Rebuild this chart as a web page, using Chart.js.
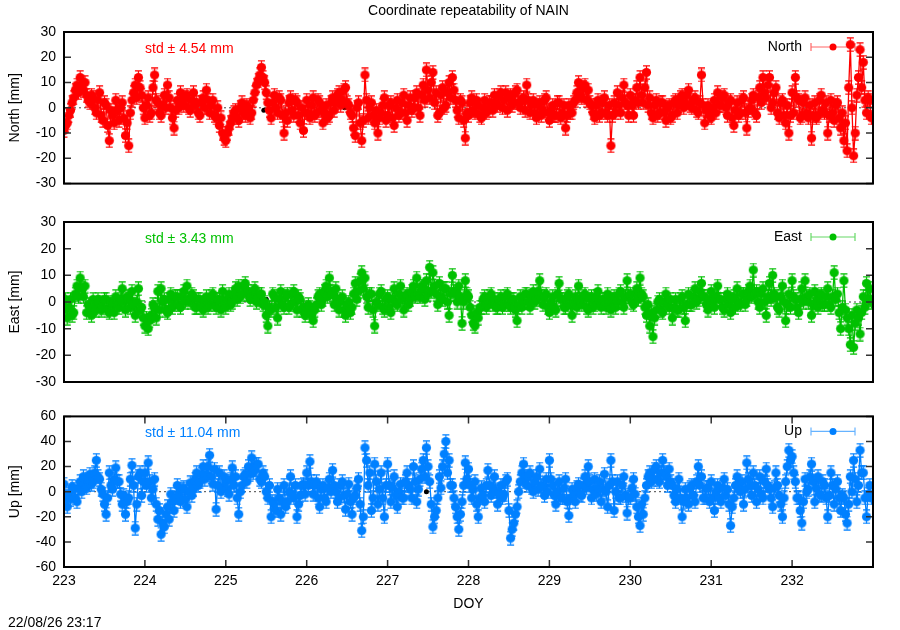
<!DOCTYPE html>
<html>
<head>
<meta charset="utf-8">
<title>Coordinate repeatability of NAIN</title>
<script src="https://cdn.jsdelivr.net/npm/chart.js@4.4.1/dist/chart.umd.min.js"></script>
<style>
  html, body { margin: 0; padding: 0; background: #fff; }
  #page { position: relative; width: 900px; height: 630px; overflow: hidden; font-family: "Liberation Sans", Arial, sans-serif; }
  #page canvas { position: absolute; left: 0; }
  .txt { position: absolute; font-size: 14px; line-height: 18px; color: #000; white-space: nowrap; }
</style>
</head>
<body>
<div id="page">
  <canvas id="north" width="900" height="200" style="top:0"></canvas>
  <canvas id="east" width="900" height="200" style="top:200px"></canvas>
  <canvas id="up" width="900" height="230" style="top:400px"></canvas>
  <div class="txt" style="left:64px;width:809px;top:1px;text-align:center">Coordinate repeatability of NAIN</div>
  <div class="txt" style="left:8px;top:613px">22/08/26 23:17</div>
</div>
<script>
// sampling grid: 50 solutions per day, starting at DOY 223.00
const doyStart = 223;
const samplesPerDay = 50;
const xTickValues = [223, 224, 225, 226, 227, 228, 229, 230, 231, 232];
const neTickValues = [-30, -20, -10, 0, 10, 20, 30];
const upTickValues = [-60, -40, -20, 0, 20, 40, 60];

// residuals in mm, one row per day (223 ... 232)
const northMm = [
  -9,-7,-6,-3,-1,2,4,7,9,6,12,9,7,10,5,3,2,5,4,0,-2,3,6,-3,-5,2,1,-7,-13,-1,-3,-6,3,-1,-5,0,2,-4,-11,-6,-15,-2,3,6,9,4,12,8,5,0,
  -4,1,4,-3,-2,8,13,3,2,-2,-3,1,5,0,9,4,0,-4,-8,-1,3,0,6,2,1,4,5,0,-1,3,6,1,2,-2,-3,2,4,0,7,3,-2,1,3,-3,-4,0,-7,-4,-10,-12,
  -13,-10,-8,-6,-4,-2,-1,-4,-5,0,2,-2,-3,1,0,-4,-2,3,6,9,11,13,16,12,10,6,2,-1,-4,2,5,0,-2,4,3,-3,-10,-2,-5,2,4,-1,-3,3,2,-3,-6,0,-9,-2,
  3,-2,-4,1,4,-3,-2,3,2,-1,-6,-2,1,-4,-3,2,4,-1,2,5,6,1,3,7,8,2,1,-2,-3,-8,-11,0,2,-6,-13,-5,13,3,-4,0,2,-3,-6,-1,-10,-4,-2,1,4,-5,
  -3,1,2,-4,-7,0,3,-3,-2,2,5,-2,-5,1,4,-1,0,4,6,0,-3,5,9,3,15,7,4,10,14,2,6,-3,-2,5,8,0,1,6,10,4,12,7,3,-1,-4,3,2,-5,-12,-2,
  -3,2,4,-1,-2,3,1,-3,-4,0,3,-2,-1,2,2,-1,5,2,1,5,6,0,3,6,-1,4,5,1,2,6,7,2,0,3,4,-1,9,3,-2,1,3,-2,-4,1,2,-3,-1,3,4,-2,
  -5,-1,1,-3,-3,2,2,-4,-2,1,-8,-3,1,-2,-2,2,3,6,10,5,4,8,9,3,7,2,1,-2,-4,1,3,-3,-2,2,4,-2,-3,1,-15,-3,2,-2,6,1,-2,4,9,2,1,-3,
  5,1,-3,3,8,2,12,5,2,8,14,1,4,-2,-4,1,3,-3,-2,2,2,-2,-5,0,1,-4,-3,2,3,-2,1,4,5,0,2,5,7,1,0,3,4,-1,-2,2,13,1,-6,-1,1,-3,
  -4,0,3,-2,6,1,1,4,5,0,-3,2,3,-4,-7,-1,2,-3,-2,3,4,-2,-8,-1,0,3,5,-2,-3,4,8,2,12,6,4,9,12,0,2,6,8,-2,-4,2,3,-3,-6,1,-10,-3,
  6,-2,12,4,3,-4,-3,2,4,-2,-4,1,-12,-3,2,-4,-3,3,5,-1,-2,2,-10,-3,3,-2,-5,1,2,-4,-8,-2,-13,-6,-17,8,25,0,-19,-10,5,12,23,8,18,3,-2,4,3,-4
];
const eastMm = [
  -3,1,-6,-2,1,-5,-4,3,6,2,9,5,2,6,-4,-1,-2,-5,1,-2,-3,1,0,-3,-2,1,1,-3,-4,0,-1,-4,2,-1,-2,1,5,0,-3,2,1,-2,4,-1,-5,0,5,-3,-2,-6,
  -9,-6,-10,-7,-5,-1,-2,-6,4,-3,5,0,1,-3,-4,1,3,-2,-1,2,2,-1,-2,2,4,0,6,1,0,3,2,-2,-2,1,1,-2,-3,0,2,-2,-1,2,3,-1,-2,1,1,-3,4,0,
  -2,1,3,-1,0,3,5,1,6,2,3,6,7,3,4,1,2,4,5,0,1,3,3,-1,0,-5,-9,-2,-3,3,2,-2,-6,1,4,-1,-2,2,3,-2,-1,3,4,0,-3,2,1,-3,-2,-5,
  -4,-1,-2,-5,-7,-3,-1,2,3,-1,1,4,6,2,9,4,3,-1,5,1,-3,0,2,-3,-5,-1,0,-4,-2,3,7,1,4,8,11,5,9,2,-2,3,3,-3,-9,0,-1,3,4,-2,-3,1,
  2,-2,-4,1,5,0,-1,3,6,1,-3,2,3,-1,1,4,6,2,9,3,2,6,5,1,8,3,13,4,11,6,3,-1,7,2,1,5,5,0,-5,3,10,4,3,0,6,2,-8,0,8,3,
  2,-2,-5,-8,-9,-4,-6,-2,-2,1,2,-2,-1,2,3,-1,1,-2,-2,1,2,-2,-1,2,3,-1,-2,1,1,-3,-7,-1,2,-2,0,3,3,0,-2,2,4,0,1,4,8,2,-1,2,3,-2,
  -4,0,2,-2,-3,3,7,1,1,-2,-2,2,3,-1,-5,0,2,-2,6,1,-1,2,3,-2,-3,1,2,-2,-1,2,4,0,-2,1,1,-2,3,-1,-3,1,2,-2,0,3,4,0,-2,2,8,2,
  3,0,-1,3,5,1,9,3,2,-2,-5,-1,-9,-4,-13,-6,-3,0,1,-3,-4,0,3,-1,-2,1,-6,-2,1,-3,-3,1,2,-2,-7,-1,3,-1,-1,2,5,0,1,4,7,2,2,-1,-3,1,
  4,0,-2,2,6,1,1,-2,-3,1,3,-1,-4,1,2,-2,5,0,-1,3,3,-1,1,4,6,2,12,3,4,0,-2,3,5,0,-5,2,7,1,10,3,2,-2,-3,2,6,0,-7,-1,3,-2,
  8,2,1,-2,-4,1,5,0,8,2,0,3,-5,-1,4,0,-2,2,3,-1,-1,2,5,-1,-2,2,11,1,3,-4,-10,-2,8,-3,-6,-10,-16,-5,-17,-8,-3,-6,-12,-4,2,-2,7,1,5,0
];
const upMm = [
  6,-4,-12,-2,-6,4,2,-5,-8,3,8,0,12,5,3,10,14,6,8,15,25,12,10,2,-2,-10,-18,-5,15,5,2,10,19,8,8,-2,-10,-3,-18,-8,-5,10,21,5,-29,-10,12,15,-3,8,
  15,5,23,8,-5,2,10,-10,-22,-15,-34,-25,-28,-18,-12,-22,-2,-8,-15,-5,5,-3,-8,2,3,-6,-12,0,7,-3,2,10,15,5,8,14,20,10,14,20,29,12,6,18,-14,5,15,0,3,12,
  8,2,-2,10,19,5,12,-5,-18,0,5,12,14,8,20,14,27,15,18,22,22,10,8,15,12,0,-5,5,-20,-8,-10,-15,2,-5,-18,-8,5,-12,-8,0,12,-2,-5,5,-20,-10,-3,5,6,-2,
  15,5,24,8,-2,5,8,-5,-12,2,5,-5,-8,3,10,0,17,5,0,-8,-5,5,8,-3,-14,-2,6,-8,-18,-5,-3,3,10,-10,-31,-20,35,25,5,15,-15,-5,22,8,-10,2,15,-5,-20,5,
  22,5,-8,3,12,-3,-12,0,6,-5,-5,8,15,5,2,-5,20,8,-8,2,10,18,25,12,35,20,8,-10,-28,-20,-15,-5,12,3,20,30,40,15,25,5,5,-5,-12,-20,-30,-18,-8,5,23,10,
  18,5,-5,2,8,-10,-20,-5,3,-3,-8,5,17,5,-3,3,12,0,-10,-2,5,-5,-2,8,10,-15,-37,-30,-25,-18,-12,0,8,15,22,10,5,12,15,3,0,8,12,2,18,5,4,-3,10,0,
  25,10,5,-3,-10,0,8,-5,-5,3,10,-8,-19,-5,2,-3,-8,3,6,-2,-3,5,12,3,20,8,-5,2,10,-2,3,8,-8,2,14,0,-12,5,25,8,-15,0,8,-5,-5,5,12,-3,-17,-5,
  -5,3,10,-2,-12,-20,-27,-10,-18,-5,5,12,15,8,10,18,20,10,8,15,25,15,12,5,18,8,5,-3,-8,2,10,-5,-20,-8,2,-5,-10,3,5,-3,-8,8,20,5,12,-5,-5,3,3,-8,
  8,-5,-15,0,5,-5,-8,3,10,-3,2,-10,-27,-12,-5,5,12,3,0,8,-10,2,23,10,5,-3,15,5,-8,2,12,-2,-5,8,18,5,2,-5,-12,3,15,5,-3,-10,-20,-5,8,20,33,25,
  28,15,8,-5,-5,-15,-25,-8,10,0,2,12,22,8,-8,3,12,-2,-3,8,5,-5,-20,-3,15,5,-10,2,8,-5,-15,-3,-5,-18,-25,-10,12,0,25,10,-8,5,33,15,15,-5,-20,-2,5,-5
];

// few solutions plotted in black
const northFlagDoy = [225.47, 226.47];
const northFlagMm = [-1, 0];
const eastFlagDoy = [225.5];
const eastFlagMm = [1];
const upFlagDoy = [227.48];
const upFlagMm = [0];

const FONT = '"Liberation Sans", Arial, sans-serif';
Chart.defaults.font.family = FONT;
Chart.defaults.font.size = 14;
Chart.defaults.color = '#000';

function toPoints(values) {
  return values.map((v, i) => ({ x: doyStart + i / samplesPerDay, y: v }));
}

// filled circle with a short capped error bar, like gnuplot's errorlines marker
function markerGlyph(color) {
  const c = document.createElement('canvas');
  c.width = 11;
  c.height = 15;
  const g = c.getContext('2d');
  g.strokeStyle = color;
  g.fillStyle = color;
  g.lineWidth = 1.2;
  g.beginPath();
  g.moveTo(5.5, 0.5); g.lineTo(5.5, 14.5);
  g.moveTo(2, 0.8); g.lineTo(9, 0.8);
  g.moveTo(2, 14.2); g.lineTo(9, 14.2);
  g.stroke();
  g.beginPath();
  g.arc(5.5, 7.5, 4.6, 0, Math.PI * 2);
  g.fill();
  return c;
}

// frame, inward ticks, zero axis, std label and key
function framePlugin(cfg) {
  return {
    id: 'frame',
    beforeDatasetsDraw(chart) {
      const { ctx, chartArea: a, scales: { y } } = chart;
      const y0 = y.getPixelForValue(0);
      ctx.save();
      ctx.strokeStyle = '#444';
      ctx.lineWidth = 1;
      ctx.setLineDash([2, 3]);
      ctx.beginPath();
      ctx.moveTo(a.left, y0);
      ctx.lineTo(a.right, y0);
      ctx.stroke();
      ctx.restore();
    },
    afterDraw(chart) {
      const { ctx, chartArea: a, scales: { x, y } } = chart;
      ctx.save();
      ctx.strokeStyle = '#333';
      ctx.lineWidth = 1.5;
      ctx.beginPath();
      cfg.yTicks.forEach(v => {
        const py = y.getPixelForValue(v);
        ctx.moveTo(a.left, py); ctx.lineTo(a.left + 7, py);
        ctx.moveTo(a.right, py); ctx.lineTo(a.right - 7, py);
      });
      if (cfg.xTicks) {
        xTickValues.forEach(v => {
          const px = x.getPixelForValue(v);
          ctx.moveTo(px, a.top); ctx.lineTo(px, a.top + 7);
          ctx.moveTo(px, a.bottom); ctx.lineTo(px, a.bottom - 7);
        });
      }
      ctx.stroke();

      ctx.strokeStyle = '#000';
      ctx.lineWidth = 2;
      ctx.strokeRect(a.left, a.top, a.right - a.left, a.bottom - a.top);

      ctx.font = '14px ' + FONT;
      ctx.textBaseline = 'middle';
      ctx.fillStyle = cfg.color;
      ctx.textAlign = 'left';
      ctx.fillText('std \u00b1 ' + cfg.std + ' mm', a.left + 81, a.top + 17);

      // key
      const ky = a.top + 15;
      ctx.fillStyle = '#000';
      ctx.textAlign = 'right';
      ctx.fillText(cfg.label, a.right - 71, ky);
      ctx.strokeStyle = cfg.lineColor;
      ctx.lineWidth = 1.2;
      ctx.beginPath();
      ctx.moveTo(a.right - 62, ky); ctx.lineTo(a.right - 18, ky);
      ctx.moveTo(a.right - 62, ky - 4); ctx.lineTo(a.right - 62, ky + 4);
      ctx.moveTo(a.right - 18, ky - 4); ctx.lineTo(a.right - 18, ky + 4);
      ctx.stroke();
      ctx.fillStyle = cfg.color;
      ctx.beginPath();
      ctx.arc(a.right - 40, ky, 3.5, 0, Math.PI * 2);
      ctx.fill();
      ctx.restore();
    }
  };
}

function makePanel(id, cfg) {
  const ctx = document.getElementById(id).getContext('2d');
  return new Chart(ctx, {
    type: 'line',
    data: {
      datasets: [
        {
          data: toPoints(cfg.values),
          borderColor: cfg.color,
          borderWidth: 1.3,
          pointStyle: markerGlyph(cfg.color),
          pointRadius: 5,
          pointHoverRadius: 0,
          tension: 0
        },
        {
          data: cfg.flagDoy.map((d, i) => ({ x: d, y: cfg.flagMm[i] })),
          showLine: false,
          pointRadius: 2.5,
          pointBorderWidth: 0,
          pointBackgroundColor: '#000'
        }
      ]
    },
    options: {
      responsive: false,
      animation: false,
      events: [],
      layout: { padding: { left: 0, right: 27, top: cfg.padTop, bottom: cfg.padBottom } },
      plugins: { legend: { display: false }, tooltip: { enabled: false } },
      scales: {
        x: {
          type: 'linear',
          min: 223,
          max: 233,
          display: cfg.xTicks,
          afterBuildTicks: s => { s.ticks = xTickValues.map(v => ({ value: v })); },
          afterFit: s => { s.height = cfg.xHeight; },
          grid: { display: false, drawTicks: false },
          border: { display: false },
          ticks: { padding: 6, color: '#000' },
          title: { display: true, text: 'DOY', color: '#000', padding: { top: 0, bottom: 17 } }
        },
        y: {
          min: cfg.yTicks[0],
          max: cfg.yTicks[cfg.yTicks.length - 1],
          afterBuildTicks: s => { s.ticks = cfg.yTicks.map(v => ({ value: v })); },
          afterFit: s => { s.width = 64; },
          grid: { display: false, drawTicks: false },
          border: { display: false },
          ticks: { padding: 8, color: '#000' },
          title: { display: true, text: cfg.label + ' [mm]', color: '#000', padding: { top: 7, bottom: 0 } }
        }
      }
    },
    plugins: [framePlugin(cfg)]
  });
}

makePanel('north', {
  label: 'North', std: '4.54', values: northMm, flagDoy: northFlagDoy, flagMm: northFlagMm,
  color: '#ff0000', lineColor: 'rgba(255,0,0,0.6)', yTicks: neTickValues,
  padTop: 32, padBottom: 8, xTicks: false, xHeight: 0
});
makePanel('east', {
  label: 'East', std: '3.43', values: eastMm, flagDoy: eastFlagDoy, flagMm: eastFlagMm,
  color: '#00c000', lineColor: 'rgba(0,192,0,0.6)', yTicks: neTickValues,
  padTop: 22, padBottom: 18, xTicks: false, xHeight: 0
});
makePanel('up', {
  label: 'Up', std: '11.04', values: upMm, flagDoy: upFlagDoy, flagMm: upFlagMm,
  color: '#0080ff', lineColor: 'rgba(0,128,255,0.6)', yTicks: upTickValues,
  padTop: 12, padBottom: 0, xTicks: true, xHeight: 63
});
</script>
</body>
</html>
